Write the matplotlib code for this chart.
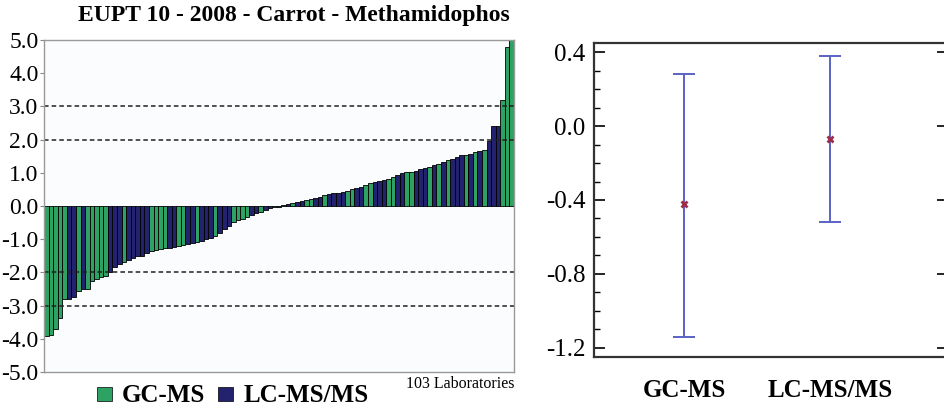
import numpy as np
import matplotlib
matplotlib.use('Agg')
import matplotlib.pyplot as plt
from matplotlib.patches import Patch

plt.rcParams['font.family'] = ['Liberation Serif', 'DejaVu Serif']

# z-scores of the 103 laboratories, sorted
zscores = [-3.93, -3.9, -3.7, -3.37, -2.81, -2.8, -2.75, -2.55, -2.5, -2.5,
           -2.25, -2.2, -2.15, -2.1, -2.0, -1.85, -1.75, -1.68, -1.62, -1.57,
           -1.52, -1.5, -1.42, -1.37, -1.33, -1.3, -1.27, -1.25, -1.22, -1.2,
           -1.17, -1.15, -1.12, -1.07, -1.05, -1.0, -0.95, -0.9, -0.8, -0.7,
           -0.6, -0.48, -0.42, -0.38, -0.32, -0.28, -0.22, -0.18, -0.12, -0.07,
           -0.04, -0.02, 0.02, 0.05, 0.1, 0.13, 0.16, 0.18, 0.2, 0.23,
           0.28, 0.32, 0.35, 0.38, 0.4, 0.43, 0.46, 0.5, 0.53, 0.58,
           0.63, 0.68, 0.72, 0.75, 0.78, 0.82, 0.86, 0.92, 0.98, 1.03,
           1.03, 1.05, 1.1, 1.13, 1.18, 1.23, 1.28, 1.33, 1.38, 1.43,
           1.48, 1.53, 1.55, 1.58, 1.62, 1.65, 1.7, 1.95, 2.4, 2.4,
           3.2, 4.8, 5.0]
# G = GC-MS, L = LC-MS/MS
lab_method = list("GGGGGLLGLG" "GGGGLLLGLL" "LLLGGGGLLG" "GLLGLLLGLL"
                  "LGGGGLLGLL" "GLGLGLLGGL" "LGLLLLGGLL" "GGLLLGGLLG"
                  "GLLLGLGLGL" "LLGLGLGLLL" "GGG")

methods = ['GC-MS', 'LC-MS/MS']
means = [-0.42, -0.07]
ci_low = [-1.14, -0.52]
ci_high = [0.28, 0.38]

green = '#2ea263'
navy = '#22226e'
colors = {'G': green, 'L': navy}

fig = plt.figure(figsize=(9.44, 4.08), dpi=100)

# left: z-score bar chart
ax = fig.add_axes([44/944, 1-372/408, 470/944, 332/408])
ax.set_facecolor('#fbfcfd')
x = np.arange(len(zscores))
ax.bar(x, zscores, width=1.0, color=[colors[m] for m in lab_method],
       edgecolor='black', linewidth=0.6)
for lev in [-3, -2, 2, 3]:
    ax.axhline(lev, color='#222222', ls=(0, (3, 2)), lw=1.1)
ax.set_xlim(-0.5, len(zscores) - 0.5)
ax.set_ylim(-5, 5)
ax.set_yticks(np.arange(-5, 6, 1))
ax.set_yticklabels(['%.1f' % v for v in np.arange(-5, 6, 1)], fontsize=17)
ax.set_xticks([])
ax.tick_params(axis='y', length=3, pad=1, color='#888888')
for s in ax.spines.values():
    s.set_color('#999999')
    s.set_linewidth(1.0)

fig.text(294/944, 1-16/408, 'EUPT 10 - 2008 - Carrot - Methamidophos',
         ha='center', va='center', fontsize=17, fontweight='bold')
fig.text(514/944, 1-384/408, '103 Laboratories', ha='right', va='center',
         fontsize=11.5)

handles = [Patch(facecolor=green, edgecolor='black', lw=0.5),
           Patch(facecolor=navy, edgecolor='black', lw=0.5)]
fig.legend(handles, methods, ncol=2, frameon=False, loc='center left',
           bbox_to_anchor=(97/944, 1-396/408), prop={'size': 18, 'weight': 'bold'},
           handlelength=0.6, handleheight=0.5, handletextpad=0.4,
           columnspacing=0.52, borderpad=0, borderaxespad=0)

# right: mean and interval per method
ax2 = fig.add_axes([594/944, 1-357/408, 354/944, 314/408])
xpos = np.arange(1, len(methods) + 1)
means_a = np.array(means)
yerr = [means_a - np.array(ci_low), np.array(ci_high) - means_a]
ax2.errorbar(xpos, means, yerr=yerr, fmt='none', ecolor='#5a63c4',
             elinewidth=1.4, capsize=8, capthick=1.4)
ax2.plot(xpos, means, ls='none', marker='x', ms=4, mew=2, color='#9a2f4c')
ax2.set_xlim(1 - 90/146, 1 + 264/146)
ax2.set_ylim(-1.249, 0.449)
ax2.set_yticks([0.4, 0.0, -0.4, -0.8, -1.2])
ax2.set_yticklabels(['0.4', '0.0', '-0.4', '-0.8', '-1.2'], fontsize=18)
ax2.set_yticks(np.arange(-1.2, 0.45, 0.1), minor=True)
ax2.set_xticks(xpos)
ax2.set_xticklabels(methods, fontsize=18, fontweight='bold')
ax2.tick_params(axis='y', which='major', direction='in', length=8, width=1.2,
                pad=6, right=True)
ax2.tick_params(axis='y', which='minor', direction='in', length=4, width=1.0,
                right=False)
ax2.tick_params(axis='x', length=0, pad=16)
for s in ax2.spines.values():
    s.set_color('#333333')
    s.set_linewidth(1.6)

fig.savefig('out.png', dpi=100)
